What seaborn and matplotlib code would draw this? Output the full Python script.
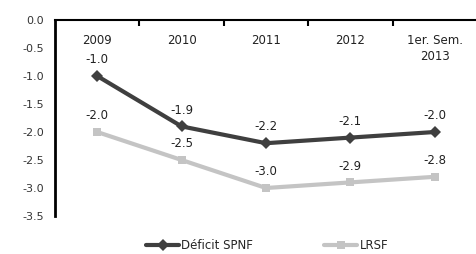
import matplotlib
matplotlib.use("Agg")
import matplotlib.pyplot as plt
import seaborn as sns
import pandas as pd

periodos = ["2009", "2010", "2011", "2012", "1er. Sem.\n2013"]
deficit_spnf = [-1.0, -1.9, -2.2, -2.1, -2.0]
lrsf = [-2.0, -2.5, -3.0, -2.9, -2.8]
yticks = [0.0, -0.5, -1.0, -1.5, -2.0, -2.5, -3.0, -3.5]

sns.set_style("white")
plt.rcParams['font.family'] = ['DejaVu Sans']

df = pd.DataFrame({
    'x': list(range(len(periodos))) * 2,
    'valor': deficit_spnf + lrsf,
    'serie': ['Déficit SPNF'] * len(periodos) + ['LRSF'] * len(periodos),
})

fig = plt.figure(figsize=(4.77, 2.54), dpi=100)
ax = fig.add_axes([55 / 477, 1 - 216 / 254, 1 - 55 / 477, (216 - 20) / 254])

colores = {'Déficit SPNF': '#3f3f3f', 'LRSF': '#c4c4c4'}
sns.lineplot(data=df, x='x', y='valor', hue='serie', style='serie',
             palette=colores, markers={'Déficit SPNF': 'D', 'LRSF': 's'},
             dashes=False, markersize=6, linewidth=3, ax=ax, legend=False,
             markeredgewidth=0)

for i, v in enumerate(deficit_spnf):
    ax.annotate(f"{v:.1f}", (i, v), xytext=(0, 7), textcoords='offset points',
                ha='center', va='bottom', fontsize=8.5, color='#222222')
for i, v in enumerate(lrsf):
    ax.annotate(f"{v:.1f}", (i, v), xytext=(0, 7), textcoords='offset points',
                ha='center', va='bottom', fontsize=8.5, color='#222222')

ax.set_xlim(-0.5, len(periodos) - 0.5)
ax.set_ylim(-3.5, 0)
ax.set_yticks(yticks)
ax.set_yticklabels([f"{t:.1f}" for t in yticks], fontsize=8, color='#333333')
ax.tick_params(axis='y', direction='out', length=4, width=1.5, color='black', pad=4)

# eje de categorias arriba en y=0, ticks entre categorias
ax.xaxis.tick_top()
ax.set_xticks([i + 0.5 for i in range(len(periodos) - 1)])
ax.set_xticklabels([])
ax.tick_params(axis='x', direction='in', length=4, width=1.5, color='black')
for i, p in enumerate(periodos):
    ax.text(i, -0.25, p, ha='center', va='top', fontsize=8.5, color='#222222',
            linespacing=1.3)

ax.set_xlabel('')
ax.set_ylabel('')
for s in ['bottom', 'right']:
    ax.spines[s].set_visible(False)
ax.spines['left'].set_linewidth(2)
ax.spines['top'].set_linewidth(1.5)
ax.spines['left'].set_color('black')
ax.spines['top'].set_color('black')

h1, = ax.plot([], [], color=colores['Déficit SPNF'], marker='D', lw=3, ms=6, mew=0)
h2, = ax.plot([], [], color=colores['LRSF'], marker='s', lw=3, ms=6, mew=0)
fig.legend([h1, h2], ['Déficit SPNF', 'LRSF'], loc='center', bbox_to_anchor=(0.56, 1 - 246 / 254),
           ncol=2, frameon=False, fontsize=8.5, handlelength=2.8, columnspacing=6, handletextpad=0.2)

fig.savefig('out.png', dpi=100)
